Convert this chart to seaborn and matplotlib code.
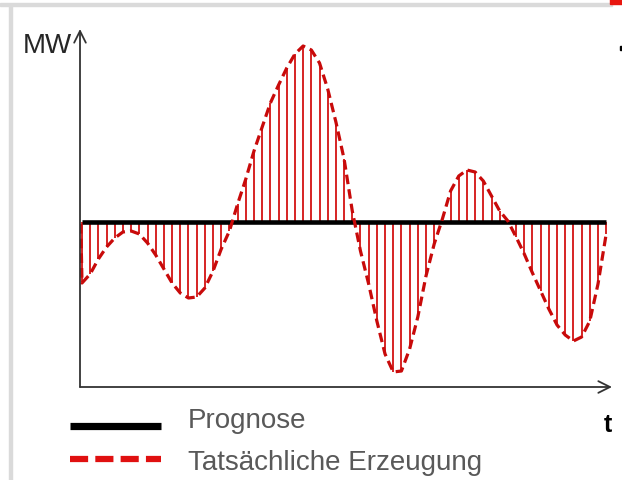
import matplotlib

matplotlib.use("Agg")

import matplotlib.pyplot as plt
import numpy as np
import pandas as pd
import seaborn as sns
from matplotlib.lines import Line2D
from matplotlib.patches import Rectangle


W_PX, H_PX = 622, 481

# actual generation (MW deviation from forecast), one value per time step
ACTUAL_MW = [
    -6.1, -5.2, -3.7, -2.5, -1.6, -1.0, -0.9, -1.2, -2.1, -3.3,
    -4.7, -6.1, -7.1, -7.6, -7.5, -6.6, -4.9, -2.7, -0.9, 1.8,
    4.3, 7.1, 9.5, 11.9, 13.7, 15.4, 16.8, 17.6, 17.2, 15.9,
    13.3, 10.0, 6.3, 1.1, -2.9, -6.2, -9.9, -13.2, -15.0, -14.9,
    -12.7, -9.5, -5.4, -2.2, 0.3, 3.1, 4.6, 5.2, 5.0, 4.1,
    2.6, 1.1, 0.1, -1.5, -3.2, -5.1, -6.9, -8.7, -10.3, -11.3,
    -11.9, -11.5, -9.9, -6.2, -1.2,
]
TIME = np.arange(len(ACTUAL_MW))
FORECAST_MW = [0.0] * len(ACTUAL_MW)

# curve starts on the forecast line just before the first sample
START_T, START_MW = -0.15, -0.2

LABEL_FORECAST = "Prognose"
LABEL_ACTUAL = "Tatsächliche Erzeugung"

RED = "#C80A0A"
STEM_RED = "#D62424"
TEXT_GRAY = "#595959"


def fig_xy(x, y):
    return x / W_PX, 1 - y / H_PX


def main():
    sns.set_theme(style="white")
    plt.rcParams["font.family"] = ["Liberation Sans", "DejaVu Sans"]

    fig = plt.figure(figsize=(W_PX / 100, H_PX / 100), dpi=100)
    fig.patch.set_facecolor("white")
    ax = fig.add_axes([80 / W_PX, 93 / H_PX, 532 / W_PX, 358 / H_PX])
    ax.set_axis_off()

    curve = pd.DataFrame(
        {"t": [START_T] + list(TIME), "mw": [START_MW] + ACTUAL_MW}
    )
    forecast = pd.DataFrame({"t": TIME, "mw": FORECAST_MW})

    ax.vlines(TIME, FORECAST_MW, ACTUAL_MW, color=STEM_RED, lw=1.4, zorder=1)
    sns.lineplot(data=forecast, x="t", y="mw", color="black", lw=3.3,
                 solid_capstyle="butt", ax=ax, zorder=2)
    sns.lineplot(data=curve, x="t", y="mw", color=RED, lw=2.3, ax=ax,
                 sort=False, zorder=3)
    ax.lines[-1].set_dashes((3.0, 1.6))

    ax.set_xlim(-0.244, 64.71)
    ax.set_ylim(-16.5, 19.3)

    arrow = dict(arrowstyle="->,head_length=0.7,head_width=0.35",
                 color="#333333", lw=1.3, shrinkA=0, shrinkB=0)
    ax.annotate("", xy=(1, 0), xytext=(0, 0), xycoords="axes fraction",
                arrowprops=arrow)
    ax.annotate("", xy=(0, 1), xytext=(0, 0), xycoords="axes fraction",
                arrowprops=arrow)

    # axis captions
    fig.text(*fig_xy(72, 53), "MW", ha="right", va="baseline",
             fontsize=20, color="#262626")
    fig.text(*fig_xy(608, 432), "t", ha="center", va="baseline",
             fontsize=18, fontweight="bold", color="black")

    # legend drawn by hand below the chart
    fig.add_artist(Line2D([70 / W_PX, 161 / W_PX], [1 - 427 / H_PX] * 2,
                          color="black", lw=5.2, solid_capstyle="butt",
                          transform=fig.transFigure))
    fig.add_artist(Line2D([70 / W_PX, 161 / W_PX], [1 - 460 / H_PX] * 2,
                          color="#E01010", lw=4.5, dashes=(2.9, 1.15),
                          dash_capstyle="butt",
                          transform=fig.transFigure))
    fig.text(*fig_xy(188, 428), LABEL_FORECAST, ha="left", va="baseline",
             fontsize=20, color=TEXT_GRAY)
    fig.text(*fig_xy(188, 470), LABEL_ACTUAL, ha="left", va="baseline",
             fontsize=20, color=TEXT_GRAY)

    # slide frame remnants
    fig.add_artist(Rectangle(fig_xy(0, 481), 9 / W_PX, 481 / H_PX,
                             color="white", transform=fig.transFigure,
                             zorder=5))
    fig.add_artist(Rectangle(fig_xy(9, 481), 2.5 / W_PX, 476 / H_PX,
                             color="#DADADA", transform=fig.transFigure,
                             zorder=6))
    fig.add_artist(Rectangle(fig_xy(0, 7), 612 / W_PX, 3.5 / H_PX,
                             color="#DADADA", transform=fig.transFigure,
                             zorder=6))
    fig.add_artist(Rectangle(fig_xy(610, 5), 12 / W_PX, 5 / H_PX,
                             color="#E8160F", transform=fig.transFigure,
                             zorder=6))
    fig.add_artist(Rectangle(fig_xy(620, 51), 2 / W_PX, 4 / H_PX,
                             color="black", transform=fig.transFigure,
                             zorder=6))

    fig.savefig("out.png", dpi=100)
    plt.close(fig)


if __name__ == "__main__":
    main()
